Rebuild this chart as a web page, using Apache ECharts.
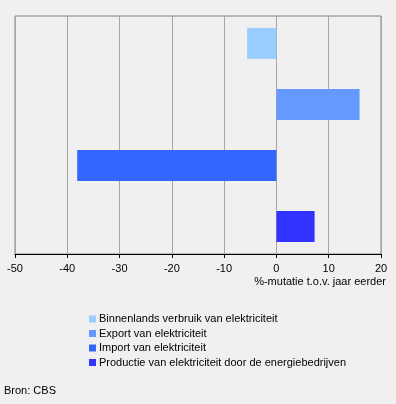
<!DOCTYPE html>
<html>
<head>
<meta charset="utf-8">
<script src="https://cdn.jsdelivr.net/npm/echarts@6/dist/echarts.min.js"></script>
<style>
html,body{margin:0;padding:0;background:#f0f0f0;}
#c{width:396px;height:404px;}
</style>
</head>
<body>
<div id="c"></div>
<script>
const categories = [''];
const seriesNames = [
  'Binnenlands verbruik van elektriciteit',
  'Export van elektriciteit',
  'Import van elektriciteit',
  'Productie van elektriciteit door de energiebedrijven'
];
const seriesValues = [-5.6, 15.9, -38.1, 7.3];
const seriesColors = ['#99ccff', '#6699ff', '#3366ff', '#3333ff'];
const xTicks = { min: -50, max: 20, interval: 10 };

const font = 'Liberation Sans, Arial, sans-serif';
const chart = echarts.init(document.getElementById('c'), null, {renderer: 'canvas'});
chart.setOption({
  backgroundColor: '#f0f0f0',
  animation: false,
  textStyle: {fontFamily: font},
  grid: {left: 15, top: 16, width: 366, height: 238, show: true, borderColor: '#808080', borderWidth: 1, backgroundColor: 'transparent'},
  xAxis: {
    type: 'value', min: xTicks.min, max: xTicks.max, interval: xTicks.interval,
    axisLine: {show: true, onZero: false, lineStyle: {color: '#000', width: 1}},
    axisTick: {show: true, length: 4, lineStyle: {color: '#000'}},
    axisLabel: {color: '#000', fontSize: 11, fontFamily: font, margin: 9},
    splitLine: {show: true, lineStyle: {color: '#a6a6a6', width: 1}},
    name: '%-mutatie t.o.v. jaar eerder',
    nameLocation: 'end',
    nameGap: 0,
    nameTextStyle: {color: '#000', fontSize: 11, fontFamily: font, align: 'right', verticalAlign: 'top', padding: [22, -5, 0, 0]}
  },
  yAxis: {
    type: 'category', data: categories, inverse: true,
    axisLine: {show: false}, axisTick: {show: false}, axisLabel: {show: false}, splitLine: {show: false}
  },
  legend: {
    orient: 'vertical', left: 84, top: 307.5, padding: 5,
    itemWidth: 7, itemHeight: 7, itemGap: 1.5, icon: 'rect',
    textStyle: {color: '#000', fontSize: 11, fontFamily: font, padding: [0, 0, 0, -2], lineHeight: 13},
    data: seriesNames
  },
  graphic: [{type: 'text', left: 4, top: 385, style: {text: 'Bron: CBS', fill: '#000', font: '11px ' + font}}],
  series: seriesNames.map((n, i) => ({
    name: n, type: 'bar', data: [seriesValues[i]],
    barWidth: 31, barGap: '97%', barCategoryGap: '10%',
    itemStyle: {color: seriesColors[i]}
  }))
});
</script>
</body>
</html>
